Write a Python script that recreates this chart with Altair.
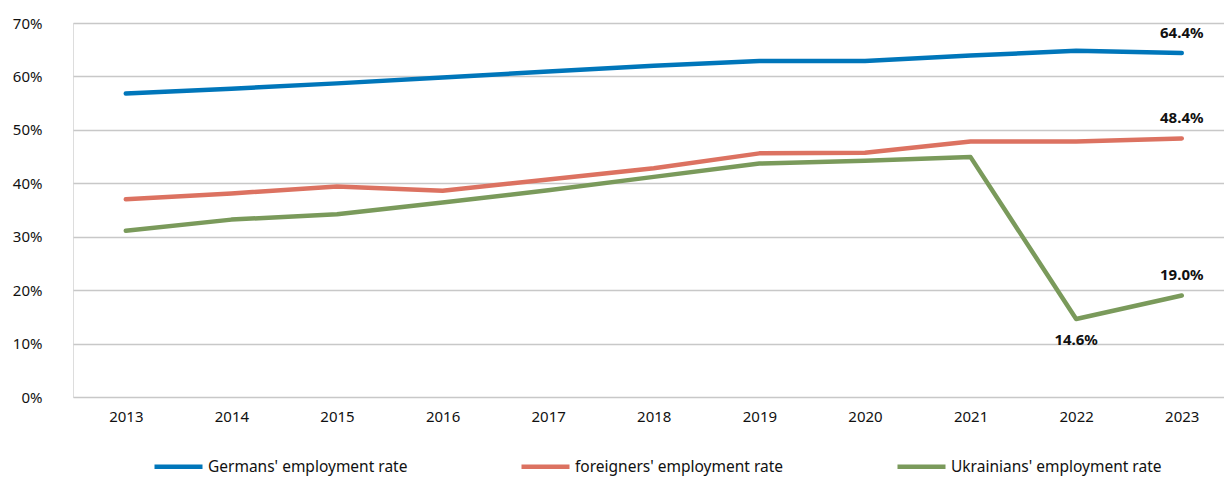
import altair as alt
import pandas as pd

years = [2013, 2014, 2015, 2016, 2017, 2018, 2019, 2020, 2021, 2022, 2023]
germans = [56.8, 57.7, 58.7, 59.8, 60.9, 62.0, 62.9, 62.9, 63.9, 64.8, 64.4]
foreigners = [37.0, 38.1, 39.4, 38.6, 40.7, 42.8, 45.6, 45.7, 47.8, 47.8, 48.4]
ukrainians = [31.1, 33.2, 34.2, 36.4, 38.7, 41.2, 43.7, 44.2, 44.9, 14.6, 19.0]

series_names = ["Germans' employment rate", "foreigners' employment rate", "Ukrainians' employment rate"]
series_colors = ["#0076BA", "#DC7261", "#7A9A5B"]

labels_above_series = ["Germans' employment rate", "foreigners' employment rate", "Ukrainians' employment rate"]
labels_above_years = [2023, 2023, 2023]
labels_above_values = [64.4, 48.4, 19.0]
labels_below_series = ["Ukrainians' employment rate"]
labels_below_years = [2022]
labels_below_values = [14.6]

title_text = "Figure 1: Employment rate by nationality"

rows = []
for name, vals in zip(series_names, [germans, foreigners, ukrainians]):
    for y, v in zip(years, vals):
        rows.append({"year": y, "series": name, "rate": v / 100})
df = pd.DataFrame(rows)

above = pd.DataFrame({"year": labels_above_years, "series": labels_above_series,
                      "rate": [v / 100 for v in labels_above_values],
                      "label": [f"{v:.1f}%" for v in labels_above_values]})
below = pd.DataFrame({"year": labels_below_years, "series": labels_below_series,
                      "rate": [v / 100 for v in labels_below_values],
                      "label": [f"{v:.1f}%" for v in labels_below_values]})

FONT = "Noto Sans"

x_enc = alt.X("year:Q",
              scale=alt.Scale(domain=[2012.5, 2023.4], nice=False, zero=False),
              axis=alt.Axis(values=years, format="d", title=None, grid=False, domain=False,
                            ticks=False, labelFontSize=15, labelPadding=12, labelColor="#111111",
                            labelFont=FONT, labelFlush=False))
y_enc = alt.Y("rate:Q",
              scale=alt.Scale(domain=[0, 0.7], nice=False),
              axis=alt.Axis(values=[0, 0.1, 0.2, 0.3, 0.4, 0.5, 0.6, 0.7], format=".0%", title=None,
                            domain=False, ticks=False, labelFontSize=15, labelPadding=31,
                            labelColor="#111111", labelFont=FONT, gridColor="#C8C8C8",
                            gridWidth=1.6))

lines = alt.Chart(df).mark_line(strokeWidth=4.5, strokeCap="round", strokeJoin="round").encode(
    x=x_enc,
    y=y_enc,
    color=alt.Color("series:N",
                    scale=alt.Scale(domain=series_names, range=series_colors),
                    sort=series_names,
                    legend=alt.Legend(title=None, orient="none", legendX=79, legendY=417,
                                      direction="horizontal", columns=3, columnPadding=104,
                                      symbolType="stroke", symbolSize=2304, symbolStrokeWidth=4.5,
                                      labelFontSize=15.5, labelFont=FONT, labelColor="#111111",
                                      labelOffset=3, labelLimit=400, padding=0)),
)

text_above = alt.Chart(above).mark_text(fontSize=15, fontWeight="bold", font=FONT, dy=-20,
                                        color="#111111").encode(
    x="year:Q", y="rate:Q", text="label:N")
text_below = alt.Chart(below).mark_text(fontSize=15, fontWeight="bold", font=FONT, dy=21,
                                        color="#111111").encode(
    x="year:Q", y="rate:Q", text="label:N")

chart = alt.layer(lines, text_above, text_below).properties(
    width=1151, height=374,
    padding={"left": 73, "top": 23, "right": 0, "bottom": 80},
    autosize=alt.AutoSizeParams(type="none"),
    title=alt.TitleParams(title_text, anchor="start", orient="top", frame="group", offset=19,
                          dx=-73, fontSize=17, fontWeight="bold", font=FONT, color="#111111",
                          baseline="alphabetic"),
).configure_view(stroke=None).configure(background="white")

chart.save("out.html", embed_options={"renderer": "svg", "actions": False})
